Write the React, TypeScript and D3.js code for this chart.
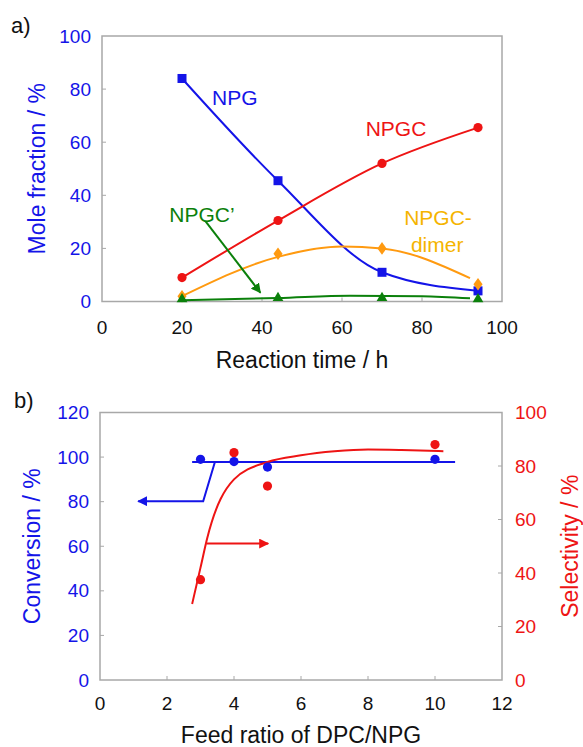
import React from 'react'
import * as d3 from 'd3'

// panel a: reaction time series
const timeH = [20, 44, 70, 94]
const npg = [84, 45.5, 11, 4]
const npgc = [9, 30.5, 52, 65.5]
const dimer = [2, 18, 20, 6.5]
const npgcPrime = [0.5, 1, 1, 0.5]

// fitted curves
const dimerFitX = [20, 44, 60, 70, 92]
const dimerFitY = [2, 16.8, 20.7, 20, 8.8]
const primeFitX = [20, 44, 62, 80, 92]
const primeFitY = [0.5, 1.3, 2.2, 2, 1.2]

const timeTicks = [0, 20, 40, 60, 80, 100]
const moleTicks = [0, 20, 40, 60, 80, 100]

// panel b: feed ratio
const ratio = [3, 4, 5, 10]
const conversion = [99, 98, 95.5, 99]
const selectivity = [37.5, 85, 72.5, 88]

const convFitX = [2.75, 10.6]
const convFitY = [97.8, 97.8]
const selFitX = [2.75, 3, 3.2, 4, 5, 6, 7, 8, 9, 10.25]
const selFitY = [28.4, 42, 53, 75, 81.5, 84, 85.5, 86.2, 86, 85.5]

const ratioTicks = [0, 2, 4, 6, 8, 10, 12]
const convTicks = [0, 20, 40, 60, 80, 100, 120]
const selTicks = [0, 20, 40, 60, 80, 100]

const BLUE = '#1414E8'
const RED = '#EE1414'
const ORANGE = '#FF9A10'
const YELLOW = '#F5B400'
const GREEN = '#0B800B'
const FRAME = '#A8A8A8'
const FONT = '"Liberation Sans", Arial, sans-serif'

const zip = (xs: number[], ys: number[]) => xs.map((x, i) => [x, ys[i]] as [number, number])

const App = () => {
	// ---- panel a
	const ax = d3.scaleLinear().domain([0, 100]).range([102, 502])
	const ay = d3.scaleLinear().domain([0, 100]).range([301.5, 36])

	const lineA = (pts: [number, number][], curve: d3.CurveFactory) =>
		d3.line<[number, number]>().x(d => ax(d[0])).y(d => ay(d[1])).curve(curve)(pts) || ''

	// ---- panel b
	const bx = d3.scaleLinear().domain([0, 12]).range([100, 502])
	const byL = d3.scaleLinear().domain([0, 120]).range([680, 412.5])
	const byR = d3.scaleLinear().domain([0, 100]).range([680, 412.5])

	const lineB = (pts: [number, number][], y: d3.ScaleLinear<number, number>, curve: d3.CurveFactory) =>
		d3.line<[number, number]>().x(d => bx(d[0])).y(d => y(d[1])).curve(curve)(pts) || ''

	const tickFont = { fontFamily: FONT, fontSize: 19 }
	const titleFont = { fontFamily: FONT, fontSize: 23 }
	const labelFont = { fontFamily: FONT, fontSize: 21 }

	const tri = d3.symbol().type(d3.symbolTriangle).size(50)()
	const diamond = d3.symbol().type(d3.symbolDiamond).size(46)()

	return (
		<svg width={583} height={747} style={{ position: 'absolute', left: 0, top: 0, background: '#fff' }}>
			<defs>
				<marker id="headGreen" viewBox="0 0 10 10" refX="9" refY="5" markerWidth="5" markerHeight="5" orient="auto">
					<path d="M0,0 L10,5 L0,10 z" fill={GREEN} />
				</marker>
				<marker id="headBlue" viewBox="0 0 10 10" refX="9" refY="5" markerWidth="5" markerHeight="5" orient="auto">
					<path d="M0,0 L10,5 L0,10 z" fill={BLUE} />
				</marker>
				<marker id="headRed" viewBox="0 0 10 10" refX="9" refY="5" markerWidth="5" markerHeight="5" orient="auto">
					<path d="M0,0 L10,5 L0,10 z" fill={RED} />
				</marker>
			</defs>

			{/* ================= a) ================= */}
			<text x={11} y={33} style={{ fontFamily: FONT, fontSize: 22 }} fill="#111">a)</text>
			<rect x={ax(0)} y={ay(100)} width={ax(100) - ax(0)} height={ay(0) - ay(100)} fill="none" stroke={FRAME} strokeWidth={1.5} />
			{timeTicks.slice(1, -1).map(t => (
				<line key={`at-${t}`} x1={ax(t)} x2={ax(t)} y1={ay(0)} y2={ay(0) - 4} stroke={FRAME} />
			))}
			{moleTicks.slice(1, -1).map(t => (
				<line key={`am-${t}`} x1={ax(0)} x2={ax(0) + 4} y1={ay(t)} y2={ay(t)} stroke={FRAME} />
			))}
			{timeTicks.map(t => (
				<text key={`atl-${t}`} x={ax(t)} y={ay(0) + 26} textAnchor="middle" dominantBaseline="central" style={tickFont} fill="#111">{t}</text>
			))}
			{moleTicks.map(t => (
				<text key={`aml-${t}`} x={91} y={ay(t)} textAnchor="end" dominantBaseline="central" style={tickFont} fill={BLUE}>{t}</text>
			))}
			<text x={(ax(0) + ax(100)) / 2} y={360} textAnchor="middle" dominantBaseline="central" style={titleFont} fill="#111">Reaction time / h</text>
			<text transform={`translate(37, ${(ay(0) + ay(100)) / 2}) rotate(-90)`} textAnchor="middle" dominantBaseline="central" style={titleFont} fill={BLUE}>Mole fraction / %</text>

			{/* curves */}
			<path d={lineA(zip(timeH, npg), d3.curveMonotoneX)} fill="none" stroke={BLUE} strokeWidth={2} />
			<path d={lineA(zip(timeH, npgc), d3.curveMonotoneX)} fill="none" stroke={RED} strokeWidth={2} />
			<path d={lineA(zip(dimerFitX, dimerFitY), d3.curveMonotoneX)} fill="none" stroke={ORANGE} strokeWidth={2} />
			<path d={lineA(zip(primeFitX, primeFitY), d3.curveMonotoneX)} fill="none" stroke={GREEN} strokeWidth={2} />

			{/* markers */}
			{timeH.map((t, i) => (
				<rect key={`sq-${t}`} x={ax(t) - 4.5} y={ay(npg[i]) - 4.5} width={9} height={9} fill={BLUE} />
			))}
			{timeH.map((t, i) => (
				<circle key={`ci-${t}`} cx={ax(t)} cy={ay(npgc[i])} r={4.6} fill={RED} />
			))}
			{timeH.map((t, i) => (
				<path key={`di-${t}`} d={diamond || ''} transform={`translate(${ax(t)},${ay(dimer[i])}) scale(1.25,1)`} fill={ORANGE} />
			))}
			{timeH.map((t, i) => (
				<path key={`tr-${t}`} d={tri || ''} transform={`translate(${ax(t)},${ay(npgcPrime[i]) - 1})`} fill={GREEN} />
			))}

			{/* labels */}
			<text x={ax(33.2)} y={ay(77)} textAnchor="middle" dominantBaseline="central" style={labelFont} fill={BLUE}>NPG</text>
			<text x={ax(73.5)} y={ay(65)} textAnchor="middle" dominantBaseline="central" style={labelFont} fill={RED}>NPGC</text>
			<text x={ax(84)} y={ay(31.5)} textAnchor="middle" dominantBaseline="central" style={labelFont} fill={YELLOW}>NPGC-</text>
			<text x={ax(83.8)} y={ay(21.3)} textAnchor="middle" dominantBaseline="central" style={labelFont} fill={YELLOW}>dimer</text>
			<text x={ax(25)} y={ay(32.6)} textAnchor="middle" dominantBaseline="central" style={labelFont} fill={GREEN}>NPGC’</text>
			<line x1={ax(25.8)} y1={ay(30.4)} x2={ax(39.6)} y2={ay(3.3)} stroke={GREEN} strokeWidth={2} markerEnd="url(#headGreen)" />

			{/* ================= b) ================= */}
			<text x={14} y={408} style={{ fontFamily: FONT, fontSize: 22 }} fill="#111">b)</text>
			<rect x={bx(0)} y={byL(120)} width={bx(12) - bx(0)} height={byL(0) - byL(120)} fill="none" stroke={FRAME} strokeWidth={1.5} />
			{ratioTicks.slice(1, -1).map(t => (
				<line key={`bt-${t}`} x1={bx(t)} x2={bx(t)} y1={byL(0)} y2={byL(0) - 4} stroke={FRAME} />
			))}
			{convTicks.slice(1, -1).map(t => (
				<line key={`bc-${t}`} x1={bx(0)} x2={bx(0) + 4} y1={byL(t)} y2={byL(t)} stroke={FRAME} />
			))}
			{selTicks.slice(1, -1).map(t => (
				<line key={`bs-${t}`} x1={bx(12)} x2={bx(12) - 4} y1={byR(t)} y2={byR(t)} stroke={FRAME} />
			))}
			{ratioTicks.map(t => (
				<text key={`btl-${t}`} x={bx(t)} y={703} textAnchor="middle" dominantBaseline="central" style={tickFont} fill="#111">{t}</text>
			))}
			{convTicks.map(t => (
				<text key={`bcl-${t}`} x={89} y={byL(t)} textAnchor="end" dominantBaseline="central" style={tickFont} fill={BLUE}>{t}</text>
			))}
			{selTicks.map(t => (
				<text key={`bsl-${t}`} x={515} y={byR(t)} textAnchor="start" dominantBaseline="central" style={tickFont} fill={RED}>{t}</text>
			))}
			<text x={(bx(0) + bx(12)) / 2} y={735} textAnchor="middle" dominantBaseline="central" style={titleFont} fill="#111">Feed ratio of DPC/NPG</text>
			<text transform={`translate(32, ${(byL(0) + byL(120)) / 2}) rotate(-90)`} textAnchor="middle" dominantBaseline="central" style={titleFont} fill={BLUE}>Conversion / %</text>
			<text transform={`translate(570, ${(byL(0) + byL(120)) / 2}) rotate(-90)`} textAnchor="middle" dominantBaseline="central" style={titleFont} fill={RED}>Selectivity / %</text>

			<path d={lineB(zip(convFitX, convFitY), byL, d3.curveLinear)} fill="none" stroke={BLUE} strokeWidth={2} />
			<path d={lineB(zip(selFitX, selFitY), byR, d3.curveMonotoneX)} fill="none" stroke={RED} strokeWidth={2} />

			{ratio.map((r, i) => (
				<circle key={`bsel-${r}`} cx={bx(r)} cy={byR(selectivity[i])} r={4.6} fill={RED} />
			))}
			{ratio.map((r, i) => (
				<circle key={`bconv-${r}`} cx={bx(r)} cy={byL(conversion[i])} r={4.6} fill={BLUE} />
			))}

			{/* axis arrows */}
			<path d={`M${bx(3.43)},${byL(97.8)} L${bx(3.08)},${byL(80.2)} L${bx(1.14)},${byL(80.2)}`} fill="none" stroke={BLUE} strokeWidth={2} markerEnd="url(#headBlue)" />
			<line x1={bx(3.18)} y1={byR(51)} x2={bx(5.02)} y2={byR(51)} stroke={RED} strokeWidth={2} markerEnd="url(#headRed)" />
		</svg>
	)
}

export default App
